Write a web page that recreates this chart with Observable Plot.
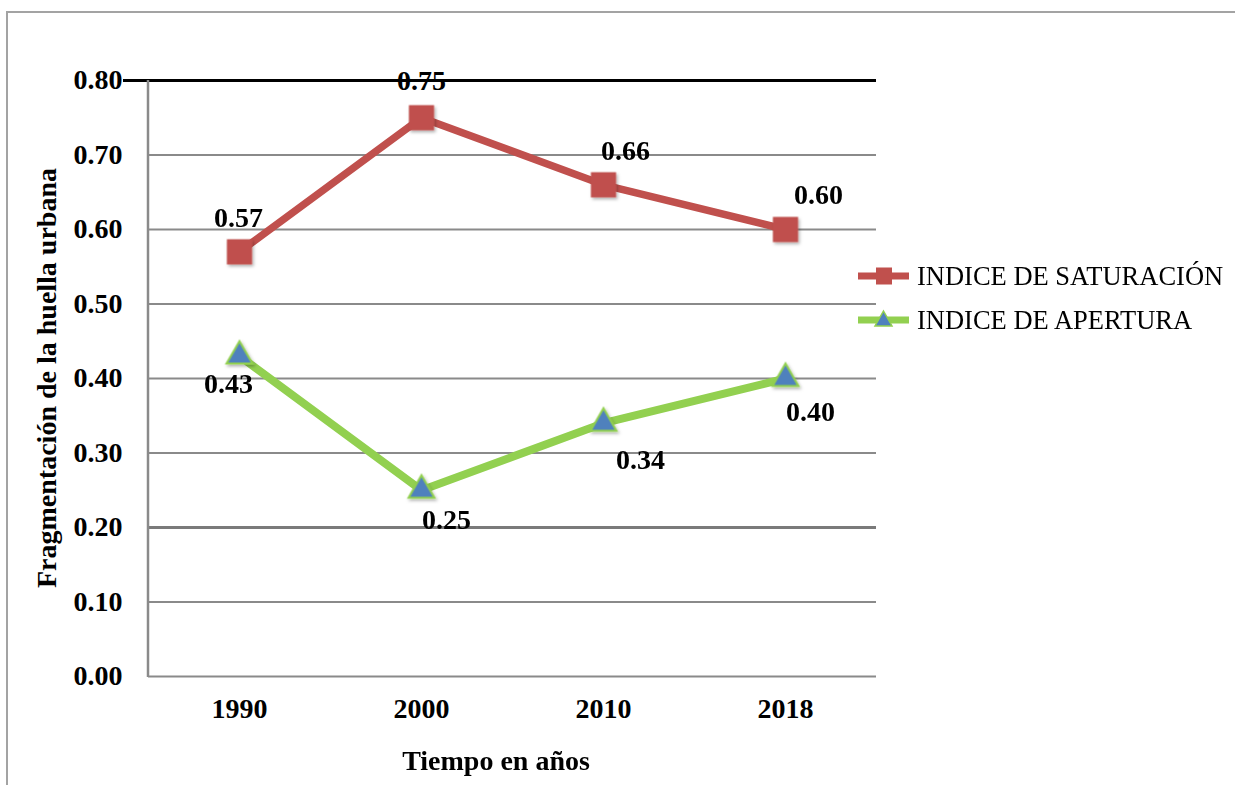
<!DOCTYPE html>
<html>
<head>
<meta charset="utf-8">
<script src="https://cdn.jsdelivr.net/npm/d3@7"></script>
<script src="https://cdn.jsdelivr.net/npm/@observablehq/plot@0.6"></script>
<style>
  body { margin: 0; background: #fff; }
  #wrap { position: relative; width: 1235px; height: 785px; overflow: hidden; background: #fff; }
  #frame { position: absolute; left: 6px; top: 11px; width: 1400px; height: 900px;
           border: 2px solid #a3a3a3; box-sizing: border-box; pointer-events: none; }
  #chart { position: absolute; left: 0; top: 0; }
</style>
</head>
<body>
<div id="wrap">
  <div id="frame"></div>
  <div id="chart"></div>
</div>
<script>
// Years on the horizontal axis
const years = ["1990", "2000", "2010", "2018"];
// Índice de saturación per year
const saturacion = [0.57, 0.75, 0.66, 0.60];
// Índice de apertura per year
const apertura = [0.43, 0.25, 0.34, 0.40];
// Vertical axis ticks
const yTicks = [0, 0.1, 0.2, 0.3, 0.4, 0.5, 0.6, 0.7, 0.8];
// Series names
const seriesNames = ["INDICE DE SATURACIÓN", "INDICE DE APERTURA"];

const RED = "#c0504d";
const GREEN = "#92d050";
const BLUE = "#4f81bd";
const FONT = "'Liberation Serif', 'Times New Roman', serif";

const satRows = years.map((year, i) => ({year, value: saturacion[i]}));
const apRows = years.map((year, i) => ({year, value: apertura[i]}));

// Value label placement (pixel offsets from each marker)
const satLabelOffsets = [[-1, -34], [0, -37], [22, -34], [33, -34]];
const apLabelOffsets = [[-11, 28], [25, 30], [37, 37], [25, 34]];

const fmt = d3.format(".2f");

const labelMarks = (rows, offsets) =>
  rows.map((r, i) =>
    Plot.text([r], {
      x: "year", y: "value", text: d => fmt(d.value),
      dx: offsets[i][0], dy: offsets[i][1],
      fontSize: 28, fontWeight: "bold", fill: "#000"
    })
  );

const plot = Plot.plot({
  width: 1235,
  height: 785,
  marginLeft: 148,
  marginRight: 359,
  marginTop: 80,
  marginBottom: 109,
  style: {fontFamily: FONT, fontSize: "28px", fontWeight: "bold", color: "#000", background: "transparent"},
  x: {type: "point", domain: years, padding: 0.5},
  y: {domain: [0, 0.8]},
  marks: [
    // horizontal gridlines
    Plot.ruleY(yTicks.filter(t => t > 0 && t < 0.8 && t !== 0.2), {stroke: "#8a8a8a", strokeWidth: 2}),
    Plot.ruleY([0.2], {stroke: "#7a7a7a", strokeWidth: 3}),
    Plot.ruleY([0.8], {stroke: "#000", strokeWidth: 3, insetLeft: -25}),
    // baseline
    Plot.ruleY([0], {stroke: "#8a8a8a", strokeWidth: 2}),
    Plot.axisY({ticks: yTicks, tickFormat: fmt, tickSize: 0, tickPadding: 26, label: null, fontSize: 28, fontWeight: "bold"}),
    Plot.axisX({tickSize: 0, tickPadding: 22, label: null, fontSize: 28, fontWeight: "bold"}),
    // series lines
    Plot.line(satRows, {x: "year", y: "value", stroke: RED, strokeWidth: 7.5, strokeLinejoin: "miter"}),
    Plot.line(apRows, {x: "year", y: "value", stroke: GREEN, strokeWidth: 8, strokeLinejoin: "miter"}),
    // markers
    Plot.dot(satRows, {x: "year", y: "value", symbol: "square", r: 14.2, fill: RED, stroke: "none"}),
    Plot.dot(apRows, {x: "year", y: "value", symbol: "triangle", r: 9.6, fill: BLUE, stroke: GREEN, strokeWidth: 2}),
    // value labels
    ...labelMarks(satRows, satLabelOffsets),
    ...labelMarks(apRows, apLabelOffsets)
  ]
});

document.getElementById("chart").appendChild(plot);

const svg = d3.select(plot);

// left axis line
svg.append("line")
  .attr("x1", 148).attr("x2", 148).attr("y1", 80).attr("y2", 677)
  .attr("stroke", "#8a8a8a").attr("stroke-width", 2.5);

// soft shadow under markers
const defs = svg.append("defs");
const f = defs.append("filter").attr("id", "mshadow").attr("x", "-50%").attr("y", "-50%").attr("width", "200%").attr("height", "200%");
f.append("feDropShadow").attr("dx", 1.5).attr("dy", 2).attr("stdDeviation", 1.5).attr("flood-color", "#000").attr("flood-opacity", 0.3);
svg.selectAll("g[aria-label='dot']").attr("filter", "url(#mshadow)");

// axis titles
svg.append("text")
  .attr("transform", "translate(56,378) rotate(-90)")
  .attr("text-anchor", "middle")
  .style("font-family", FONT).style("font-size", "28px").style("font-weight", "bold")
  .text("Fragmentación de la huella urbana");

svg.append("text")
  .attr("x", 496).attr("y", 770)
  .attr("text-anchor", "middle")
  .style("font-family", FONT).style("font-size", "28px").style("font-weight", "bold")
  .text("Tiempo en años");

// legend
const legend = svg.append("g");
const legendY = [276, 320];
const legendLine = [RED, GREEN];
seriesNames.forEach((name, i) => {
  const y = legendY[i];
  legend.append("line").attr("x1", 858).attr("x2", 909).attr("y1", y).attr("y2", y)
    .attr("stroke", legendLine[i]).attr("stroke-width", 7);
  if (i === 0) {
    legend.append("rect").attr("x", 876).attr("y", y - 8.5).attr("width", 16).attr("height", 17)
      .attr("fill", RED);
  } else {
    legend.append("path").attr("d", `M883.5,${y - 9}L892,${y + 6}L875,${y + 6}Z`)
      .attr("fill", BLUE).attr("stroke", GREEN).attr("stroke-width", 1.5);
  }
  legend.append("text").attr("x", 917).attr("y", y).attr("dy", "0.35em")
    .attr("text-anchor", "start")
    .style("font-family", FONT).style("font-size", "26.5px").style("font-weight", "normal")
    .attr("fill", "#000")
    .text(name);
});
</script>
</body>
</html>
